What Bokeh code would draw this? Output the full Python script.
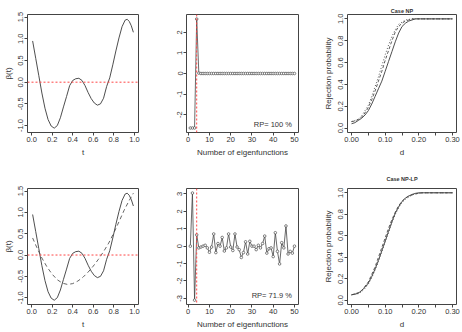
from bokeh.plotting import figure
from bokeh.layouts import gridplot
from bokeh.models import Span, FixedTicker, Label, Range1d, CustomJSTickFormatter
from bokeh.embed import file_html
from bokeh.resources import INLINE

# ---- coefficient functions beta(t) ----
t_true = [0.01, 0.04, 0.07, 0.10, 0.13, 0.16, 0.19, 0.22, 0.25, 0.28, 0.31, 0.34,
          0.37, 0.40, 0.43, 0.46, 0.49, 0.52, 0.55, 0.58, 0.61, 0.64, 0.67, 0.70,
          0.73, 0.76, 0.79, 0.82, 0.85, 0.88, 0.91, 0.93, 0.95, 0.97, 0.99]
beta_true = [0.95, 0.55, 0.15, -0.25, -0.60, -0.86, -1.01, -1.06, -1.00, -0.82, -0.57, -0.33,
             -0.08, 0.04, 0.08, 0.09, 0.04, -0.08, -0.24, -0.38, -0.48, -0.53, -0.50, -0.37,
             -0.10, 0.10, 0.40, 0.72, 1.02, 1.28, 1.43, 1.45, 1.40, 1.30, 1.15]

t_fit = [0.01, 0.05, 0.10, 0.15, 0.20, 0.25, 0.30, 0.35, 0.40, 0.45, 0.50,
         0.55, 0.60, 0.65, 0.70, 0.75, 0.80, 0.85, 0.90, 0.95, 0.99]
beta_fit = [0.40, 0.18, -0.07, -0.28, -0.45, -0.58, -0.66, -0.69, -0.67, -0.61, -0.52,
            -0.40, -0.26, -0.10, 0.08, 0.28, 0.52, 0.78, 1.05, 1.28, 1.45]

# ---- estimated coefficients per eigenfunction ----
n_eig = list(range(1, 51))
coef_np = [-2.65, -2.65, -2.65, 2.65, 0.02, 0.0, 0.0, 0.0, 0.0, 0.0,
           0.0, 0.0, 0.0, 0.0, 0.0, 0.0, 0.0, 0.0, 0.0, 0.0,
           0.0, 0.0, 0.0, 0.0, 0.0, 0.0, 0.0, 0.0, 0.0, 0.0,
           0.0, 0.0, 0.0, 0.0, 0.0, 0.0, 0.0, 0.0, 0.0, 0.0,
           0.0, 0.0, 0.0, 0.0, 0.0, 0.0, 0.0, 0.0, 0.0, 0.0]
coef_nplp = [0.0, 3.05, -3.10, 0.65, -0.10, -0.05, 0.0, 0.05, -0.10, -0.35,
             -0.05, 0.70, -0.37, 0.15, 0.0, 0.50, -0.28, -0.10, 0.70, -0.05,
             -0.25, 0.70, -0.05, -0.20, -0.65, -0.37, 0.25, -0.45, 0.28, 0.0,
             0.0, -0.20, 0.05, -0.10, 0.15, 0.58, -0.40, -0.15, -0.10, -0.60,
             0.77, -0.30, -1.02, 0.20, -0.10, 1.16, -0.45, -0.30, -0.40, 0.0]
k_selected = [4, 4]
rp_text = ["RP= 100 %", "RP= 71.9 %"]

# ---- rejection probability curves ----
d_vals = [0.00, 0.01, 0.02, 0.03, 0.04, 0.05, 0.06, 0.07, 0.08, 0.09, 0.10,
          0.11, 0.12, 0.13, 0.14, 0.15, 0.16, 0.17, 0.18, 0.19, 0.20, 0.21, 0.30]
np_solid = [0.04, 0.05, 0.07, 0.09, 0.12, 0.16, 0.22, 0.29, 0.36, 0.43, 0.52,
            0.61, 0.70, 0.79, 0.87, 0.93, 0.96, 0.98, 0.99, 1.0, 1.0, 1.0, 1.0]
np_dashed = [0.06, 0.065, 0.08, 0.10, 0.14, 0.19, 0.26, 0.34, 0.43, 0.52, 0.62,
             0.71, 0.80, 0.88, 0.93, 0.96, 0.98, 0.99, 1.0, 1.0, 1.0, 1.0, 1.0]
np_dotted = [0.06, 0.07, 0.08, 0.11, 0.16, 0.21, 0.29, 0.38, 0.47, 0.57, 0.67,
             0.76, 0.84, 0.90, 0.95, 0.97, 0.99, 0.995, 1.0, 1.0, 1.0, 1.0, 1.0]
nplp_solid = [0.05, 0.055, 0.065, 0.09, 0.12, 0.16, 0.22, 0.29, 0.37, 0.46, 0.55,
              0.64, 0.73, 0.81, 0.87, 0.92, 0.95, 0.97, 0.985, 0.995, 1.0, 1.0, 1.0]
nplp_dashed = [0.05, 0.06, 0.07, 0.09, 0.13, 0.17, 0.24, 0.31, 0.40, 0.49, 0.58,
               0.67, 0.75, 0.82, 0.88, 0.92, 0.95, 0.97, 0.98, 0.99, 0.995, 1.0, 1.0]
nplp_dotted = [0.05, 0.06, 0.06, 0.08, 0.11, 0.15, 0.21, 0.28, 0.36, 0.45, 0.54,
               0.63, 0.72, 0.80, 0.86, 0.91, 0.94, 0.96, 0.98, 0.99, 0.995, 1.0, 1.0]
case_titles = ["Case NP", "Case NP-LP"]

# ---- tick positions and labels ----
t_ticks = [0.0, 0.2, 0.4, 0.6, 0.8, 1.0]
t_labels = ["0.0", "0.2", "0.4", "0.6", "0.8", "1.0"]
beta_ticks = [-1.0, -0.5, 0.0, 0.5, 1.0, 1.5]
beta_labels = ["-1.0", "-0.5", "0.0", "0.5", "1.0", "1.5"]
n_ticks = [0, 10, 20, 30, 40, 50]
n_labels = ["0", "10", "20", "30", "40", "50"]
c1_ticks = [-2, -1, 0, 1, 2]
c1_labels = ["-2", "-1", "0", "1", "2"]
c2_ticks = [-3, -2, -1, 0, 1, 2, 3]
c2_labels = ["-3", "-2", "-1", "0", "1", "2", "3"]
d_ticks = [0.0, 0.05, 0.10, 0.15, 0.20, 0.25, 0.30]
d_labels = ["0.00", "", "0.10", "", "0.20", "", "0.30"]
p_ticks = [0.0, 0.2, 0.4, 0.6, 0.8, 1.0]
p_labels = ["0.0", "0.2", "0.4", "0.6", "0.8", "1.0"]

FONT = "Liberation Sans"
INK = "#333333"
LINE = "#3a3a3a"
RED = "#ff4545"


def panel(xr, yr, borders, xt, xl, yt, yl, xlabel=None, ylabel=None):
    left, right, top, bottom = borders
    p = figure(width=154, height=166, x_range=Range1d(*xr), y_range=Range1d(*yr),
               output_backend="svg", toolbar_location=None,
               min_border_left=left, min_border_right=right,
               min_border_top=top, min_border_bottom=bottom)
    p.grid.visible = False
    p.outline_line_color = "#444444"
    p.outline_line_width = 1
    for ax, ticks, labels in ((p.xaxis[0], xt, xl), (p.yaxis[0], yt, yl)):
        ax.ticker = FixedTicker(ticks=ticks, minor_ticks=[])
        ax.formatter = CustomJSTickFormatter(args=dict(labels=labels), code="return labels[index];")
        ax.axis_line_color = None
        ax.major_tick_out = 3
        ax.major_tick_in = 0
        ax.minor_tick_out = 0
        ax.minor_tick_in = 0
        ax.major_tick_line_color = "#444444"
        ax.major_label_text_font = FONT
        ax.major_label_text_font_size = "7.5px"
        ax.major_label_text_color = INK
        ax.major_label_standoff = 1
        ax.axis_label_text_font = FONT
        ax.axis_label_text_font_size = "8px"
        ax.axis_label_text_font_style = "normal"
        ax.axis_label_text_color = INK
        ax.axis_label_standoff = 3
    p.yaxis[0].major_label_orientation = "vertical"
    p.xaxis[0].axis_label = xlabel
    p.yaxis[0].axis_label = ylabel
    return p


# top-left: true coefficient function
p1 = panel((-0.04, 1.04), (-1.16, 1.56), (25, 16, 14, 34), t_ticks, t_labels,
           beta_ticks, beta_labels, "t", "β(t)")
p1.add_layout(Span(location=0, dimension="width", line_color=RED, line_dash="2 2", line_width=1))
p1.line(t_true, beta_true, line_color=LINE, line_width=0.9)

# bottom-left: true and estimated function
p4 = panel((-0.04, 1.04), (-1.16, 1.56), (25, 16, 19, 28), t_ticks, t_labels,
           beta_ticks, beta_labels, "t", "β(t)")
p4.add_layout(Span(location=0, dimension="width", line_color=RED, line_dash="2 2", line_width=1))
p4.line(t_true, beta_true, line_color=LINE, line_width=0.9)
p4.line(t_fit, beta_fit, line_color="#555555", line_width=0.9, line_dash="4 3")


def coef_panel(vals, yr, yt, yl, borders, k, text, text_y):
    p = panel((-0.8, 51.9), yr, borders, n_ticks, n_labels, yt, yl,
              "Number of eigenfunctions", None)
    p.line(n_eig, vals, line_color="#444444", line_width=0.8)
    p.scatter(n_eig, vals, marker="circle", size=2.6, line_color="#333333",
              line_width=0.6, fill_color="white")
    p.add_layout(Span(location=k, dimension="height", line_color=RED,
                      line_dash="2 2", line_width=1))
    p.add_layout(Label(x=48.8, y=text_y, text=text, text_align="right",
                       text_baseline="middle", text_font=FONT,
                       text_font_size="7.5px", text_color=INK))
    return p


p2 = coef_panel(coef_np, (-2.87, 2.87), c1_ticks, c1_labels, (32, 10, 14, 34),
                k_selected[0], rp_text[0], -2.47)
p5 = coef_panel(coef_nplp, (-3.35, 3.31), c2_ticks, c2_labels, (32, 10, 19, 28),
                k_selected[1], rp_text[1], -2.86)


def power_panel(solid, dashed, dotted, borders, title, standoff):
    p = panel((-0.012, 0.312), (-0.04, 1.04), borders, d_ticks, d_labels,
              p_ticks, p_labels, "d", "Rejection probability")
    p.title.text = title
    p.title.align = "center"
    p.title.text_font = FONT
    p.title.text_font_size = "5.5px"
    p.title.text_font_style = "bold"
    p.title.text_color = INK
    p.title.standoff = standoff
    p.line(d_vals, solid, line_color=LINE, line_width=0.9)
    p.line(d_vals, dashed, line_color="#484848", line_width=0.9, line_dash="3 2")
    p.line(d_vals, dotted, line_color="#484848", line_width=0.9, line_dash="1 2")
    return p


p3 = power_panel(np_solid, np_dashed, np_dotted, (39, 6, 14, 34), case_titles[0], 2)
p6 = power_panel(nplp_solid, nplp_dashed, nplp_dotted, (39, 6, 21, 28), case_titles[1], 14)

grid = gridplot([[p1, p2, p3], [p4, p5, p6]], toolbar_location=None)

open("out.html", "w").write(file_html(grid, INLINE))
